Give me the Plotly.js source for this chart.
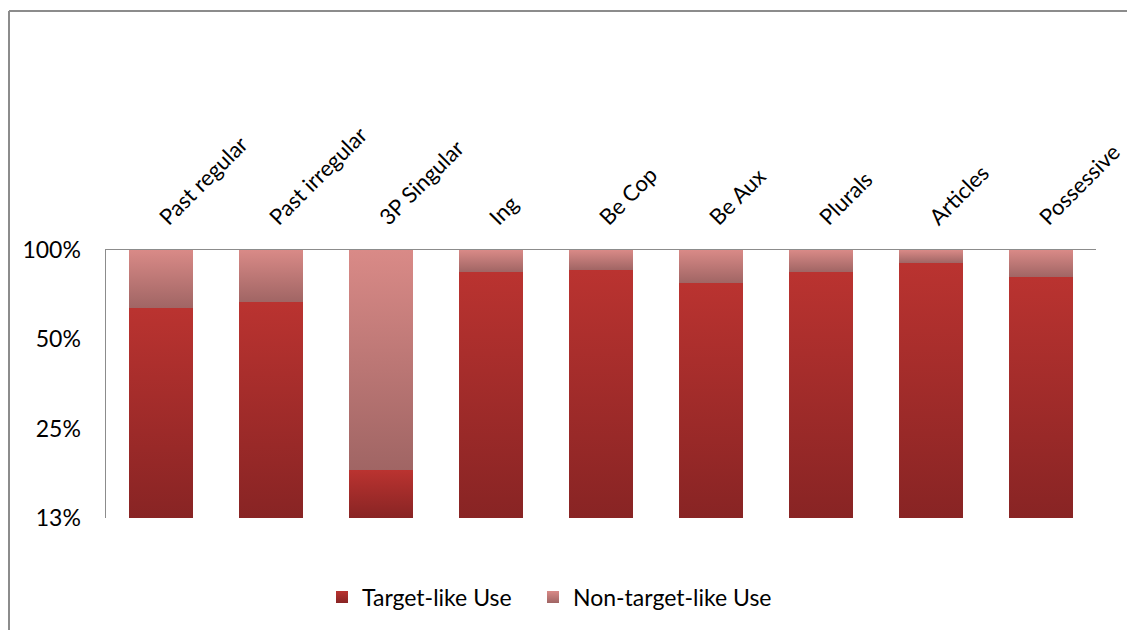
<!DOCTYPE html>
<html>
<head>
<meta charset="utf-8">
<script src="https://cdn.plot.ly/plotly-3.0.1.min.js"></script>
<style>
html,body{margin:0;padding:0;background:#fff;}
#chart{width:1127px;height:630px;}
</style>
</head>
<body>
<div id="chart"></div>
<script>
var categories = ["Past regular","Past irregular","3P Singular","Ing","Be Cop","Be Aux","Plurals","Articles","Possessive"];
var targetLike = [0.637, 0.667, 0.181, 0.843, 0.856, 0.774, 0.843, 0.904, 0.811];
var nonTargetLike = [0.363, 0.333, 0.819, 0.157, 0.144, 0.226, 0.157, 0.096, 0.189];
var yTickVals = [0.125, 0.25, 0.5, 1];
var yTickText = ["13%","25%","50%","100%"];

var W = 1127, H = 630;
var M = {l:106, r:31, t:250, b:112};
var pw = W - M.l - M.r, ph = H - M.t - M.b;
function px(x){ return (x - M.l)/pw; }
function py(y){ return (H - M.b - y)/ph; }

var FONT = "Lato, 'Open Sans', sans-serif";

var traces = [
  {type:'bar', name:'Target-like Use', x:categories, y:targetLike, legend:'legend',
   marker:{color:'#A42C2A', line:{width:0}}, hoverinfo:'none'},
  {type:'bar', name:'Non-target-like Use', x:categories, y:nonTargetLike, legend:'legend2',
   marker:{color:'#C47A78', line:{width:0}}, hoverinfo:'none'}
];

var legendCommon = {orientation:'h', xanchor:'left', y:py(597), yanchor:'middle',
  font:{family:FONT, size:23, color:'#000'}, itemwidth:30, bgcolor:'rgba(0,0,0,0)'};

var layout = {
  width:W, height:H,
  margin:{l:M.l, r:M.r, t:M.t, b:M.b, pad:0},
  paper_bgcolor:'#fff', plot_bgcolor:'#fff',
  barmode:'stack', bargap:0.418,
  font:{family:FONT, size:23, color:'#000'},
  showlegend:true,
  legend:Object.assign({x:px(322)}, legendCommon),
  legend2:Object.assign({x:px(533)}, legendCommon),
  xaxis:{type:'category', side:'top', range:[-0.5, 8.5], tickangle:-45,
         showline:true, linecolor:'#8c8c8c', linewidth:1.5, mirror:false,
         showgrid:false, zeroline:false, ticks:'', ticklabelstandoff:10,
         tickfont:{family:FONT, size:22, color:'#000'}},
  yaxis:{type:'log', range:[Math.log10(0.125), 0], tickmode:'array',
         tickvals:yTickVals, ticktext:yTickText,
         showline:true, linecolor:'#8c8c8c', linewidth:1.5,
         showgrid:false, zeroline:false, ticks:'', ticklabelstandoff:19,
         tickfont:{family:FONT, size:23, color:'#000'}},
  shapes:[
    {type:'line', xref:'paper', yref:'paper', x0:px(9), x1:px(1140), y0:py(11), y1:py(11),
     line:{color:'#8c8c8c', width:2}},
    {type:'line', xref:'paper', yref:'paper', x0:px(9), x1:px(9), y0:py(11), y1:py(640),
     line:{color:'#8c8c8c', width:2}}
  ]
};

Plotly.newPlot('chart', traces, layout, {staticPlot:true, displayModeBar:false}).then(function(gd){
  var svg = gd.querySelector('svg.main-svg');
  var ns = 'http://www.w3.org/2000/svg';
  var defs = svg.querySelector('defs') || svg.insertBefore(document.createElementNS(ns,'defs'), svg.firstChild);
  var n = 0;
  function grad(top, bottom, y1, y2){
    var id = 'bg' + (n++);
    var g = document.createElementNS(ns,'linearGradient');
    g.setAttribute('id', id);
    if (y1 === undefined) {
      g.setAttribute('x1','0'); g.setAttribute('y1','0'); g.setAttribute('x2','0'); g.setAttribute('y2','1');
    } else {
      g.setAttribute('gradientUnits','userSpaceOnUse');
      g.setAttribute('x1','0'); g.setAttribute('x2','0');
      g.setAttribute('y1', String(y1)); g.setAttribute('y2', String(y2));
    }
    var s1 = document.createElementNS(ns,'stop'); s1.setAttribute('offset','0'); s1.setAttribute('stop-color',top);
    var s2 = document.createElementNS(ns,'stop'); s2.setAttribute('offset','1'); s2.setAttribute('stop-color',bottom);
    g.appendChild(s1); g.appendChild(s2); defs.appendChild(g);
    return id;
  }
  var cols = [['#BA3330','#882424'],['#D98A87','#A06564']];
  var plotH = gd._fullLayout.yaxis._length;
  var traceGroups = gd.querySelectorAll('.barlayer .trace');
  traceGroups.forEach(function(tg, i){
    tg.querySelectorAll('path').forEach(function(p){
      var bb = p.getBBox();
      var top = Math.max(bb.y, 0), bot = Math.min(bb.y + bb.height, plotH);
      var id = grad(cols[i][0], cols[i][1], top, bot);
      p.style.fill = 'url(#' + id + ')';
    });
  });
  var legIds = [grad(cols[0][0], cols[0][1]), grad(cols[1][0], cols[1][1])];
  gd.querySelectorAll('.legendpoints path').forEach(function(p){
    var f = p.style.fill || '';
    var idx = (f.indexOf('196') >= 0) ? 1 : 0;
    p.style.fill = 'url(#' + legIds[idx] + ')';
  });
});
</script>
</body>
</html>
